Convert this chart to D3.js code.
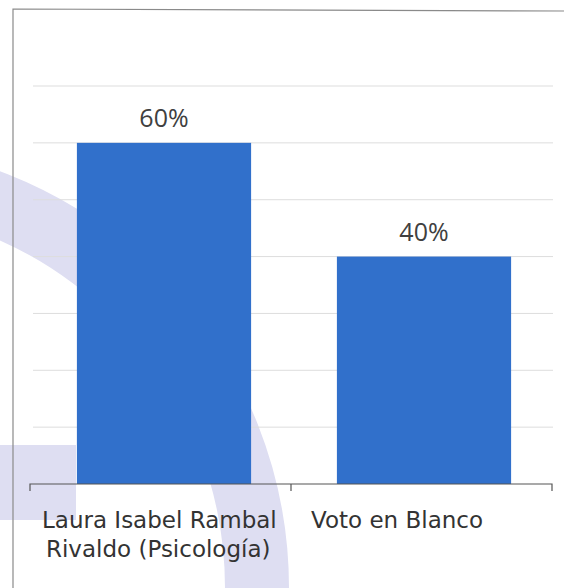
<!DOCTYPE html>
<html>
<head>
<meta charset="utf-8">
<script src="https://cdn.jsdelivr.net/npm/d3@7"></script>
<style>
  body { margin: 0; background: #fff; }
  svg { display: block; }
</style>
</head>
<body>
<svg width="564" height="588"></svg>
<script>
var categories = ["Laura Isabel Rambal|Rivaldo (Psicología)", "Voto en Blanco"];
var values = [60, 40];
var valueLabels = ["60%", "40%"];
var gridTicks = [10, 20, 30, 40, 50, 60, 70];

var svg = d3.select("svg"),
    width = +svg.attr("width"),
    height = +svg.attr("height");

// faint watermark from the scanned page
var wmPath = d3.path();
wmPath.arc(-156, 588, 413, -Math.PI / 2, 0, false);
svg.append("path")
    .attr("d", wmPath.toString())
    .attr("fill", "none")
    .attr("stroke", "#dedef2")
    .attr("stroke-width", 64);
svg.append("rect")
    .attr("x", 0).attr("y", 445).attr("width", 76).attr("height", 75)
    .attr("fill", "#dedef2");

// frame
svg.append("path")
    .attr("d", "M13,588 L13,9 L564,11")
    .attr("fill", "none")
    .attr("stroke", "#8a8a8a")
    .attr("stroke-width", 1.2);

var xAxisScale = d3.scaleBand()
    .domain(categories)
    .range([30, 552]);

var x = d3.scaleBand()
    .domain(categories)
    .range([34, 554])
    .paddingInner(0.33)
    .paddingOuter(0.165);

var y = d3.scaleLinear()
    .domain([0, 70])
    .range([484, 86]);

// gridlines
svg.append("g")
    .selectAll("line")
    .data(gridTicks)
    .enter().append("line")
    .attr("x1", 33)
    .attr("x2", 553)
    .attr("y1", function (d) { return y(d); })
    .attr("y2", function (d) { return y(d); })
    .attr("stroke", "#dddddd")
    .attr("stroke-width", 1);

// bars
svg.append("g")
    .selectAll("rect")
    .data(values)
    .enter().append("rect")
    .attr("x", function (d, i) { return x(categories[i]); })
    .attr("y", function (d) { return y(d); })
    .attr("width", x.bandwidth())
    .attr("height", function (d) { return y(0) - y(d); })
    .attr("fill", "#3170cb");

// value labels
svg.append("g")
    .selectAll("text")
    .data(values)
    .enter().append("text")
    .attr("x", function (d, i) { return x(categories[i]) + x.bandwidth() / 2; })
    .attr("y", function (d) { return y(d) - 16; })
    .attr("text-anchor", "middle")
    .attr("font-family", "'Open Sans', sans-serif")
    .attr("font-size", 25)
    .attr("fill", "#404040")
    .text(function (d, i) { return valueLabels[i]; });

// x axis: baseline with ticks at the category edges
var edges = categories.map(function (c) { return xAxisScale(c); }).concat([xAxisScale.range()[1]]);
var axisD = "M" + edges[0] + "," + (y(0) + 7) + " L" + edges[0] + "," + y(0) +
    " L" + edges[edges.length - 1] + "," + y(0) + " L" + edges[edges.length - 1] + "," + (y(0) + 7);
edges.slice(1, -1).forEach(function (e) {
    axisD += " M" + e + "," + y(0) + " L" + e + "," + (y(0) + 7);
});
svg.append("path")
    .attr("d", axisD)
    .attr("fill", "none")
    .attr("stroke", "#555")
    .attr("stroke-width", 1.2);

// category labels
var catG = svg.append("g")
    .selectAll("text")
    .data(categories)
    .enter().append("text")
    .attr("font-family", "'DejaVu Sans', sans-serif")
    .attr("font-size", 23)
    .attr("fill", "#333")
    .attr("text-anchor", "start");
catG.each(function (d, i) {
    var lines = d.split("|");
    var t = d3.select(this);
    var x0 = xAxisScale(d) + 12;
    lines.forEach(function (l, j) {
        t.append("tspan")
            .attr("x", x0 + (j === 1 ? 4 : 0) + (i === 1 ? 8 : 0))
            .attr("y", 528 + j * 29)
            .text(l);
    });
});
</script>
</body>
</html>
